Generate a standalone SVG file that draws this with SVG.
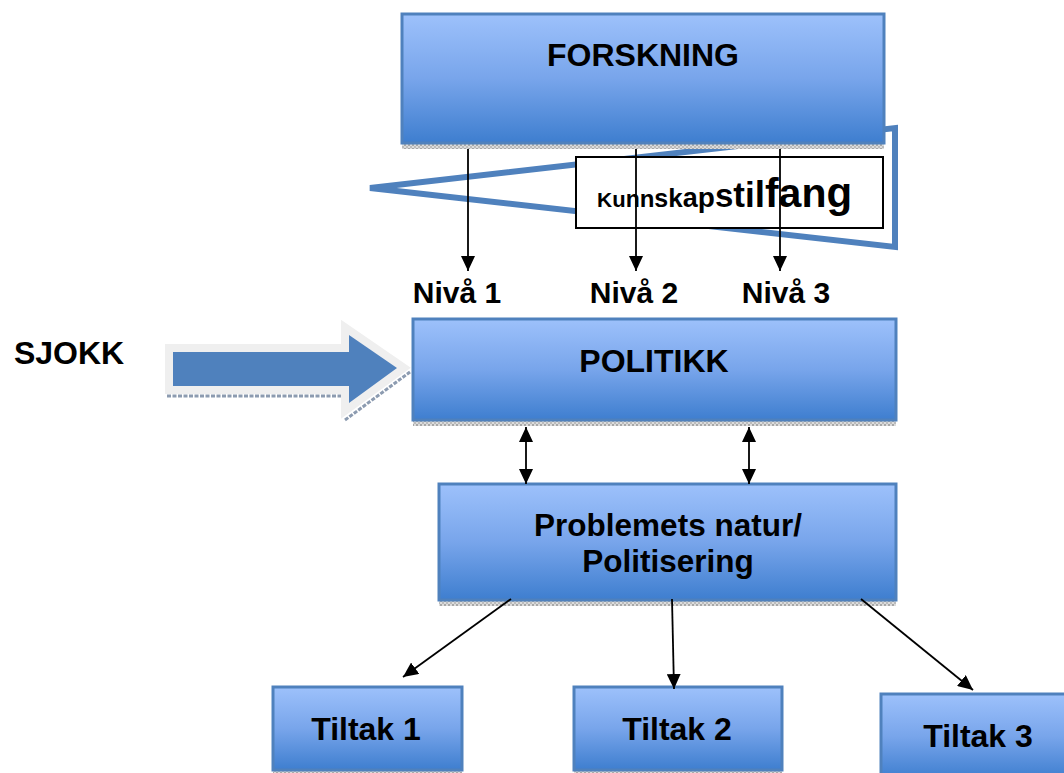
<svg xmlns="http://www.w3.org/2000/svg" width="1064" height="773" viewBox="0 0 1064 773">
<defs>
<linearGradient id="blue" x1="0" y1="0" x2="0" y2="1">
<stop offset="0" stop-color="#9dc1fb"/>
<stop offset="0.5" stop-color="#78a5eb"/>
<stop offset="1" stop-color="#3e7ecf"/>
</linearGradient>
<pattern id="hatch" width="4" height="4" patternUnits="userSpaceOnUse">
<rect width="4" height="4" fill="#dcdcdc"/>
<rect width="2" height="2" fill="#a8a8a8"/>
<rect x="2" y="2" width="2" height="2" fill="#bcbcbc"/>
</pattern>
<marker id="ah" markerWidth="15" markerHeight="14" refX="15" refY="7" orient="auto-start-reverse" markerUnits="userSpaceOnUse" viewBox="0 0 15 14">
<path d="M0,0 L15,7 L0,14 z" fill="#000"/>
</marker>
</defs>
<style>
.box{fill:url(#blue);stroke:#4f81bd;stroke-width:3}
.shadow{fill:url(#hatch)}
.lbl{font-family:"Liberation Sans",Arial,sans-serif;font-weight:bold;fill:#000;text-anchor:middle}
.con{stroke:#000;stroke-width:1.8;fill:none;marker-end:url(#ah)}
.dbl{marker-start:url(#ah)}
</style>

<g id="triangle">
<polygon points="370,188 895,128 895,247" fill="none" stroke="#4f81bd" stroke-width="6" stroke-linejoin="miter"/>
</g>

<g id="forskning">
<rect class="shadow" x="402" y="143" width="482" height="6"/>
<rect class="box" x="402" y="14" width="482" height="129"/>
<text class="lbl" x="643" y="66" font-size="32">FORSKNING</text>
</g>

<g id="kunnskapstilfang">
<rect x="576" y="157" width="307" height="71" fill="#fff" stroke="#000" stroke-width="2"/>
<text x="597" y="207" font-family="Liberation Sans,Arial,sans-serif" font-weight="bold" fill="#000"><tspan font-size="21">K</tspan><tspan font-size="22">u</tspan><tspan font-size="23">n</tspan><tspan font-size="24">n</tspan><tspan font-size="25">s</tspan><tspan font-size="26">k</tspan><tspan font-size="27">a</tspan><tspan font-size="28">p</tspan><tspan font-size="33">s</tspan><tspan font-size="35">t</tspan><tspan font-size="35">i</tspan><tspan font-size="37">l</tspan><tspan font-size="41">f</tspan><tspan font-size="41">a</tspan><tspan font-size="41">n</tspan><tspan font-size="42">g</tspan></text>
</g>

<g id="sjokk-label">
<text class="lbl" x="69" y="364" font-size="32">SJOKK</text>
</g>

<g id="sjokk-arrow">
<line x1="167" y1="396" x2="342" y2="396" stroke="#8c9bb0" stroke-width="3" stroke-dasharray="4 1.5"/>
<line x1="345" y1="420" x2="410" y2="372" stroke="#8c9bb0" stroke-width="3" stroke-dasharray="4 1.5"/>
<polygon points="173,352 349,352 349,335 397,368 349,403 349,386 173,386" fill="none" stroke="#efefef" stroke-width="16" stroke-linejoin="miter" stroke-miterlimit="10"/>
<polygon points="173,352 349,352 349,335 397,368 349,403 349,386 173,386" fill="#4f81bd"/>
</g>

<g id="niva-labels">
<text class="lbl" x="457" y="303" font-size="30">Nivå 1</text>
<text class="lbl" x="634" y="303" font-size="30">Nivå 2</text>
<text class="lbl" x="786" y="303" font-size="30">Nivå 3</text>
</g>

<g id="politikk">
<rect class="shadow" x="413" y="420" width="483" height="6"/>
<rect class="box" x="413" y="319" width="483" height="101"/>
<text class="lbl" x="654" y="372" font-size="32">POLITIKK</text>
</g>

<g id="problemets">
<rect class="shadow" x="439" y="600" width="457" height="6"/>
<rect class="box" x="439" y="484" width="457" height="116"/>
<text class="lbl" x="668" y="536" font-size="31.5">Problemets natur/</text>
<text class="lbl" x="668" y="572" font-size="31.5">Politisering</text>
</g>

<g id="tiltak1">
<rect class="shadow" x="273" y="770" width="189" height="4"/>
<rect class="box" x="273" y="687" width="189" height="83"/>
<text class="lbl" x="366" y="740" font-size="32">Tiltak 1</text>
</g>

<g id="tiltak2">
<rect class="shadow" x="574" y="770" width="208" height="4"/>
<rect class="box" x="574" y="687" width="208" height="83"/>
<text class="lbl" x="677" y="740" font-size="32">Tiltak 2</text>
</g>

<g id="tiltak3">
<rect class="box" x="881" y="694" width="190" height="85"/>
<text class="lbl" x="978" y="747" font-size="32">Tiltak 3</text>
</g>

<g id="connectors">
<line class="con" x1="468" y1="149" x2="468" y2="271"/>
<line class="con" x1="636" y1="149" x2="636" y2="271"/>
<line class="con" x1="780" y1="149" x2="780" y2="271"/>
<line class="con dbl" x1="526" y1="427" x2="526" y2="484"/>
<line class="con dbl" x1="749" y1="427" x2="749" y2="484"/>
<line class="con" x1="511" y1="599" x2="403" y2="677"/>
<line class="con" x1="672" y1="599" x2="674" y2="689"/>
<line class="con" x1="861" y1="599" x2="973" y2="690"/>
</g>
</svg>
